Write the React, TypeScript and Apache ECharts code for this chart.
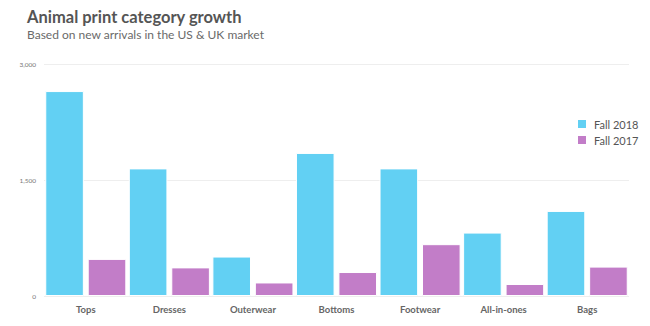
import React, { useEffect, useRef } from "react";
import * as echarts from "echarts";

const categories = ["Tops", "Dresses", "Outerwear", "Bottoms", "Footwear", "All-in-ones", "Bags"];
const fall2018 = [2650, 1650, 510, 1850, 1650, 820, 1100];
const fall2017 = [480, 370, 175, 310, 670, 155, 380];
const yTicks = { min: 0, max: 3000, interval: 1500 };

export default function App() {
  const ref = useRef<HTMLDivElement>(null);
  useEffect(() => {
    if (!ref.current) return;
    const chart = echarts.init(ref.current, undefined, { renderer: "svg" });
    chart.setOption({
      animation: false,
      backgroundColor: "#ffffff",
      title: {
        text: "Animal print category growth",
        subtext: "Based on new arrivals in the US & UK market",
        left: 22,
        top: 3,
        itemGap: 3,
        textStyle: { fontFamily: "Lato", fontSize: 16.5, fontWeight: "bold", color: "#555555" },
        subtextStyle: { fontFamily: "Lato", fontSize: 12, color: "#6a6a6a" },
      },
      legend: {
        orient: "vertical",
        left: 571,
        top: 113,
        itemWidth: 10,
        itemHeight: 10,
        itemGap: 4,
        icon: "rect",
        textStyle: { fontFamily: "Lato", fontSize: 11, color: "#555555", padding: [0, 0, 0, 2] },
        data: ["Fall 2018", "Fall 2017"],
      },
      grid: { left: 44, right: 21, top: 64, bottom: 30, containLabel: false },
      xAxis: {
        type: "category",
        data: categories,
        axisLine: { show: false },
        axisTick: { show: false },
        axisLabel: { fontFamily: "Lato", fontSize: 9.5, fontWeight: "bold", color: "#666666", margin: 8 },
      },
      yAxis: {
        type: "value",
        min: yTicks.min,
        max: yTicks.max,
        interval: yTicks.interval,
        axisLine: { show: false },
        axisTick: { show: false },
        axisLabel: {
          fontFamily: "Lato",
          fontSize: 6.5,
          color: "#777777",
          margin: 8,
          formatter: (v: number) => v.toLocaleString("en-US"),
        },
        splitLine: { lineStyle: { color: "#eeeeee", width: 1 } },
      },
      series: [
        {
          name: "Fall 2018",
          type: "bar",
          data: fall2018,
          barCategoryGap: "3%",
          barGap: "10%",
          itemStyle: { color: "#62D0F3", borderColor: "#ffffff", borderWidth: 1 },
        },
        {
          name: "Fall 2017",
          type: "bar",
          data: fall2017,
          itemStyle: { color: "#C27DC8", borderColor: "#ffffff", borderWidth: 1 },
        },
      ],
    });
    return () => chart.dispose();
  }, []);
  return <div ref={ref} style={{ width: 650, height: 326, position: "absolute", left: 0, top: 0 }} />;
}
